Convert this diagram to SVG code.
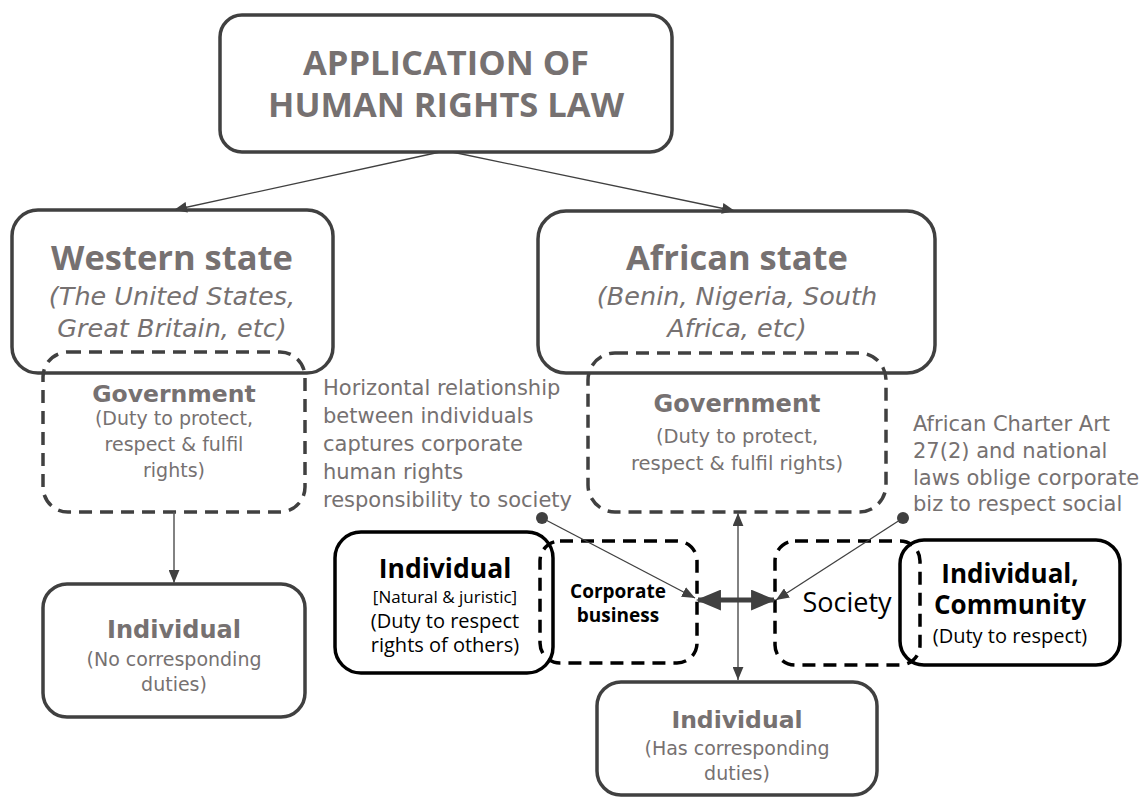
<svg xmlns="http://www.w3.org/2000/svg" width="1146" height="801" viewBox="0 0 1146 801">
  <defs>
    <style>
      .box { fill: #fff; stroke: #404040; stroke-width: 3.5; }
      .boxk { fill: none; stroke: #000; stroke-width: 3.5; }
      .dash { fill: none; stroke: #404040; stroke-width: 3.5; stroke-dasharray: 13 8; }
      .dashk { fill: none; stroke: #000; stroke-width: 3.5; stroke-dasharray: 13 8; }
      .h { font-family: "Open Sans", "Liberation Sans", sans-serif; font-weight: bold; fill: #767171; text-anchor: middle; }
      .t { font-family: "DejaVu Sans", "Liberation Sans", sans-serif; fill: #767171; text-anchor: middle; }
      .tk { font-family: "Open Sans", "Liberation Sans", sans-serif; fill: #000; text-anchor: middle; }
      .b { font-weight: bold; }
      .i { font-style: italic; }
      .note { font-family: "DejaVu Sans", "Liberation Sans", sans-serif; fill: #767171; font-size: 21px; }
      .thin { stroke: #404040; stroke-width: 1.3; fill: none; }
      .gray { stroke: #595959; stroke-width: 1.5; fill: none; }
    </style>
    <marker id="tri" viewBox="0 0 12 10" refX="12" refY="5" markerWidth="13" markerHeight="11" markerUnits="userSpaceOnUse" orient="auto-start-reverse">
      <path d="M0,0 L12,5 L0,10 Z" fill="#404040"/>
    </marker>
    <marker id="triB" viewBox="0 0 12 10" refX="11" refY="5" markerWidth="5" markerHeight="4.2" orient="auto-start-reverse">
      <path d="M0,0 L12,5 L0,10 Z" fill="#404040"/>
    </marker>
    <marker id="dot" viewBox="0 0 10 10" refX="5" refY="5" markerWidth="12" markerHeight="12" markerUnits="userSpaceOnUse">
      <circle cx="5" cy="5" r="5" fill="#404040"/>
    </marker>
  </defs>

  <!-- top node -->
  <g id="app">
    <rect class="box" x="220" y="15" width="452" height="137" rx="22"/>
    <text class="h" x="446" y="75" font-size="34.5">APPLICATION OF</text>
    <text class="h" x="446" y="117" font-size="34.5">HUMAN RIGHTS LAW</text>
  </g>

  <!-- western branch -->
  <g id="western">
    <rect class="box" x="12" y="210" width="321" height="163" rx="26"/>
    <text class="h" x="172" y="270" font-size="34.5">Western state</text>
    <text class="t i" x="172" y="305" font-size="25.5">(The United States,</text>
    <text class="t i" x="172" y="337" font-size="25.5">Great Britain, etc)</text>
  </g>
  <g id="gov-west">
    <rect class="dash" x="43" y="352" width="262" height="160" rx="25"/>
    <text class="t b" x="174" y="402" font-size="23.5">Government</text>
    <text class="t" x="174" y="425" font-size="19">(Duty to protect,</text>
    <text class="t" x="174" y="451" font-size="19">respect &amp; fulfil</text>
    <text class="t" x="174" y="477" font-size="19">rights)</text>
  </g>
  <g id="ind-west">
    <rect class="box" x="43" y="584" width="262" height="133" rx="24"/>
    <text class="t b" x="174" y="638" font-size="24">Individual</text>
    <text class="t" x="174" y="666" font-size="19">(No corresponding</text>
    <text class="t" x="174" y="691" font-size="19">duties)</text>
  </g>

  <!-- african branch -->
  <g id="african">
    <rect class="box" x="538" y="211" width="397" height="162" rx="28"/>
    <text class="h" x="737" y="270" font-size="34.5">African state</text>
    <text class="t i" x="737" y="305" font-size="25.5">(Benin, Nigeria, South</text>
    <text class="t i" x="737" y="337" font-size="25.5">Africa, etc)</text>
  </g>
  <g id="gov-africa">
    <rect class="dash" x="588" y="353" width="298" height="159" rx="27"/>
    <text class="t b" x="737" y="412" font-size="24">Government</text>
    <text class="t" x="737" y="443" font-size="19.5">(Duty to protect,</text>
    <text class="t" x="737" y="470" font-size="19.5">respect &amp; fulfil rights)</text>
  </g>

  <g id="note-horizontal">
    <text class="note" x="323" y="395">Horizontal relationship</text>
    <text class="note" x="323" y="423">between individuals</text>
    <text class="note" x="323" y="451">captures corporate</text>
    <text class="note" x="323" y="479">human rights</text>
    <text class="note" x="323" y="507">responsibility to society</text>
  </g>
  <g id="note-charter">
    <text class="note" x="913" y="431">African Charter Art</text>
    <text class="note" x="913" y="458">27(2) and national</text>
    <text class="note" x="913" y="485">laws oblige corporate</text>
    <text class="note" x="913" y="511">biz to respect social</text>
  </g>

  <g id="corporate">
    <rect class="dashk" x="540" y="541" width="157" height="122" rx="20"/>
    <text class="tk b" x="618" y="598" font-size="19">Corporate</text>
    <text class="tk b" x="618" y="622" font-size="19">business</text>
  </g>
  <g id="ind-juristic">
    <rect class="boxk" x="335" y="532" width="218" height="141" rx="26"/>
    <text class="tk b" x="445" y="578" font-size="26.5">Individual</text>
    <text class="tk" x="445" y="603" font-size="17">[Natural &amp; juristic]</text>
    <text class="tk" x="445" y="628" font-size="20">(Duty to respect</text>
    <text class="tk" x="445" y="652" font-size="20">rights of others)</text>
  </g>

  <g id="society">
    <rect class="dashk" x="775" y="541" width="145" height="124" rx="20"/>
    <text class="tk" x="847" y="612" font-size="27">Society</text>
  </g>
  <g id="community">
    <rect class="boxk" x="900" y="540" width="220" height="125" rx="24"/>
    <text class="tk b" x="1010" y="583" font-size="26">Individual,</text>
    <text class="tk b" x="1010" y="614" font-size="26">Community</text>
    <text class="tk" x="1010" y="643" font-size="20">(Duty to respect)</text>
  </g>

  <g id="ind-africa">
    <rect class="box" x="597" y="682" width="280" height="113" rx="24"/>
    <text class="t b" x="737" y="728" font-size="23.5">Individual</text>
    <text class="t" x="737" y="755" font-size="19">(Has corresponding</text>
    <text class="t" x="737" y="780" font-size="19">duties)</text>
  </g>

  <!-- connectors -->
  <g id="connectors">
    <line class="thin" x1="440" y1="152" x2="174" y2="210" marker-end="url(#tri)"/>
    <line class="thin" x1="452" y1="152" x2="735" y2="211" marker-end="url(#tri)"/>
    <line class="gray" x1="174" y1="512" x2="174" y2="583" marker-end="url(#tri)"/>
    <line class="gray" x1="738" y1="513" x2="738" y2="680" marker-start="url(#tri)" marker-end="url(#tri)"/>
    <line class="thin" x1="542" y1="518" x2="695" y2="598" marker-start="url(#dot)" marker-end="url(#tri)"/>
    <line class="thin" x1="903" y1="518" x2="776" y2="600" marker-start="url(#dot)" marker-end="url(#tri)"/>
    <line stroke="#404040" stroke-width="5" x1="698" y1="600" x2="774" y2="600" marker-start="url(#triB)" marker-end="url(#triB)"/>
  </g>
</svg>
